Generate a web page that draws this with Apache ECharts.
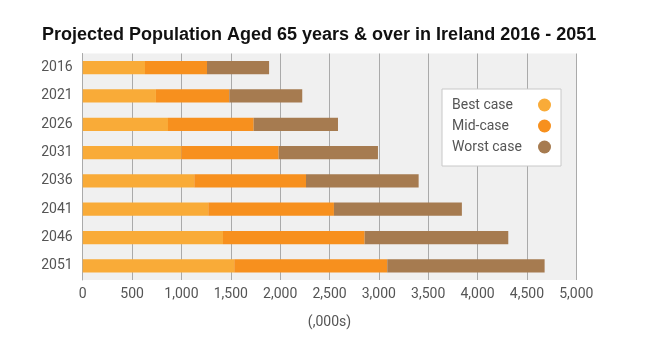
<!DOCTYPE html>
<html><head><meta charset="utf-8">
<script src="https://cdn.jsdelivr.net/npm/echarts@6/dist/echarts.min.js"></script>
<style>html,body{margin:0;padding:0;background:#fff}#c{width:645px;height:337px}</style>
</head><body><div id="c"></div>
<script>
const years = ['2016','2021','2026','2031','2036','2041','2046','2051'];
const bestCase = [631, 742, 864, 999, 1130, 1272, 1421, 1535];
const midCase = [628, 743, 868, 986, 1132, 1273, 1435, 1550];
const worstCase = [629, 739, 854, 1006, 1141, 1296, 1455, 1594];
const xTicks = [0, 500, 1000, 1500, 2000, 2500, 3000, 3500, 4000, 4500, 5000];
const colors = ['#F9AB38', '#F7901E', '#A67B50'];
const font = 'Roboto';
const chart = echarts.init(document.getElementById('c'));
const mk = (name, data, i) => ({
  name, type: 'bar', stack: 'a', data, barWidth: '47%',
  itemStyle: { color: colors[i] }
});
chart.setOption({
  animation: false,
  title: {
    text: 'Projected Population Aged 65 years & over in Ireland 2016 - 2051',
    left: 37, top: 21,
    textStyle: { fontFamily: 'Liberation Sans', fontWeight: 'bold', fontSize: 18, color: '#111' }
  },
  grid: { left: 82.7, right: 68.7, top: 53.5, bottom: 57, show: true, backgroundColor: '#f0f0f0', borderWidth: 0 },
  legend: {
    orient: 'vertical', right: 84, top: 89, align: 'right',
    data: ['Best case', 'Mid-case', 'Worst case'],
    icon: 'circle', itemWidth: 13, itemHeight: 13, itemGap: 7,
    backgroundColor: '#fff', borderColor: '#c8c8c8', borderWidth: 1,
    padding: [9, 10, 12, 10],
    formatter: n => '{a|' + n + '}',
    textStyle: {
      fontFamily: font, fontSize: 14, color: '#555',
      rich: { a: { width: 81, align: 'left', fontFamily: font, fontSize: 14, color: '#555' } }
    }
  },
  xAxis: {
    type: 'value', min: 0, max: 5000, interval: 500,
    name: '(,000s)', nameLocation: 'middle', nameGap: 35,
    nameTextStyle: { fontFamily: font, fontSize: 14, color: '#555' },
    axisLine: { show: false },
    axisTick: { show: false },
    splitLine: { show: true, lineStyle: { color: '#aaa', width: 1 } },
    axisLabel: {
      fontFamily: font, fontSize: 14, color: '#555', margin: 7,
      formatter: v => xTicks.includes(v) ? v.toLocaleString('en-US') : ''
    }
  },
  yAxis: {
    type: 'category', data: years, inverse: true,
    axisLine: { show: true, lineStyle: { color: '#aaa' } },
    axisTick: { show: false },
    axisLabel: { fontFamily: font, fontSize: 14, color: '#555', margin: 10 }
  },
  series: [mk('Best case', bestCase, 0), mk('Mid-case', midCase, 1), mk('Worst case', worstCase, 2)]
});
</script></body></html>
